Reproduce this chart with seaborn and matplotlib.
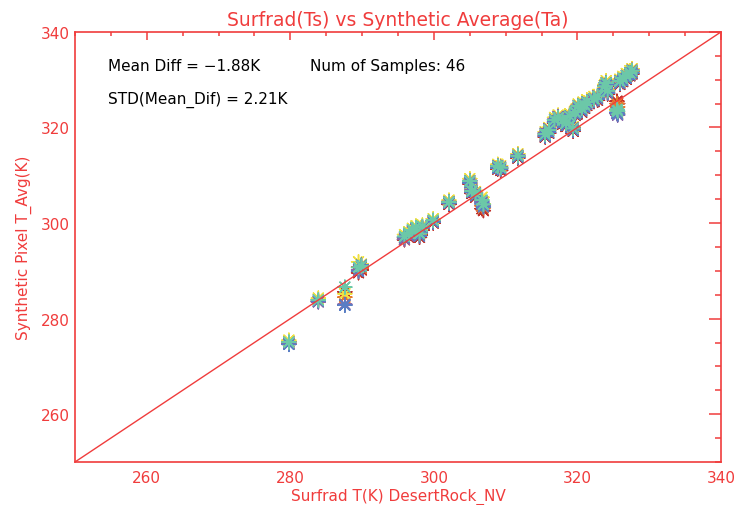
import pandas as pd
import matplotlib.pyplot as plt
import seaborn as sns
from matplotlib.ticker import MultipleLocator

# -----------------------------
# Data
# -----------------------------
surfrad_t = [279.8, 283.9, 287.6, 289.5, 289.9, 295.9, 296.5, 297.0, 297.5, 298.0,
             298.4, 299.9, 302.1, 305.0, 305.3, 305.8, 306.7, 306.9, 308.9, 309.3,
             311.7, 315.5, 316.0, 316.8, 317.3, 317.9, 318.4, 319.4, 319.7, 320.1,
             320.6, 321.0, 322.3, 322.8, 323.8, 324.2, 324.0, 325.5, 325.6, 325.9,
             326.3, 326.8, 327.3, 327.6, 321.3, 318.9]

pix_red = [274.7, 283.6, 285.6, 289.6, 290.2, 296.5, 297.0, 297.8, 298.0, 297.0,
           298.5, 300.0, 303.9, 308.2, 306.2, 305.4, 303.0, 302.6, 311.3, 311.0,
           313.6, 318.0, 318.8, 320.9, 321.2, 320.7, 320.2, 319.2, 322.5, 323.8,
           323.2, 324.0, 325.4, 325.7, 327.9, 327.0, 328.6, 325.5, 325.0, 329.0,
           329.6, 330.1, 330.8, 331.2, 324.6, 321.7]
pix_orange = [275.2, 284.0, 284.5, 290.8, 290.6, 296.9, 297.4, 298.1, 298.6, 297.6,
              298.9, 300.3, 304.2, 308.6, 306.6, 306.0, 303.6, 303.2, 311.7, 311.4,
              314.0, 318.4, 319.3, 321.3, 321.8, 321.2, 320.6, 319.6, 322.9, 324.2,
              323.7, 324.4, 325.8, 326.2, 328.3, 327.4, 329.1, 325.0, 324.3, 329.4,
              330.0, 330.5, 331.2, 331.7, 325.1, 322.2]
pix_yellow = [275.5, 284.3, 285.2, 291.9, 291.4, 297.6, 298.2, 298.9, 299.4, 298.3,
              299.6, 300.9, 304.8, 309.3, 307.2, 306.6, 305.4, 304.0, 312.3, 312.0,
              314.5, 319.1, 320.0, 322.1, 322.6, 322.0, 321.4, 320.2, 323.6, 324.9,
              324.4, 325.1, 326.5, 326.9, 329.0, 328.1, 329.8, 323.6, 323.0, 330.1,
              330.7, 331.3, 331.9, 332.3, 325.8, 322.9]
pix_purple = [274.9, 283.5, 283.0, 290.2, 290.9, 296.6, 297.3, 298.3, 298.8, 297.9,
              299.2, 300.5, 304.5, 308.9, 306.9, 306.3, 304.4, 303.8, 312.0, 311.7,
              314.2, 318.8, 319.7, 321.7, 322.3, 321.6, 321.0, 319.9, 323.3, 324.6,
              324.0, 324.8, 326.1, 326.6, 328.7, 327.7, 329.4, 322.9, 322.6, 329.8,
              330.3, 330.9, 331.5, 332.0, 325.4, 322.5]
pix_blue = [274.6, 283.7, 282.8, 289.9, 291.2, 297.0, 297.7, 298.5, 299.0, 297.3,
            299.0, 300.2, 304.1, 308.4, 306.4, 305.7, 304.0, 303.4, 311.5, 311.3,
            313.8, 318.2, 319.0, 321.1, 321.5, 320.9, 320.4, 319.4, 322.7, 324.0,
            323.5, 324.2, 325.6, 326.0, 328.1, 327.2, 328.9, 323.2, 322.8, 329.2,
            329.8, 330.3, 331.0, 331.4, 324.9, 321.9]
pix_teal = [275.1, 283.9, 286.6, 290.7, 291.0, 297.2, 297.9, 298.6, 299.1, 297.8,
            299.3, 300.6, 304.4, 308.8, 306.7, 306.2, 304.8, 303.9, 311.9, 311.6,
            314.1, 318.6, 319.5, 321.6, 322.1, 321.5, 320.9, 319.8, 323.2, 324.5,
            324.0, 324.7, 326.0, 326.5, 328.6, 327.7, 329.3, 323.8, 323.4, 329.7,
            330.3, 330.8, 331.4, 331.9, 325.3, 322.4]

pixel_names = ["red", "orange", "yellow", "purple", "blue", "teal"]
pixel_colors = ["#c0302a", "#e8782c", "#f0e040", "#8a64a8", "#5a7ec4", "#6cc8a8"]

axis_lim = [250, 340]
red = "#f03c3c"

# -----------------------------
# Long-form table
# -----------------------------
df = pd.DataFrame({"surfrad": surfrad_t, "red": pix_red, "orange": pix_orange,
                   "yellow": pix_yellow, "purple": pix_purple, "blue": pix_blue,
                   "teal": pix_teal})
long_df = df.melt(id_vars="surfrad", value_vars=pixel_names,
                  var_name="pixel", value_name="synthetic")

# -----------------------------
# Plot
# -----------------------------
sns.set_theme(style="white")
plt.rcParams["font.family"] = ["DejaVu Sans"]

fig = plt.figure(figsize=(7.35, 5.06), dpi=100)
ax = fig.add_axes([0.102, 0.085, 0.879, 0.850])

sns.scatterplot(data=long_df, x="surfrad", y="synthetic", hue="pixel",
                hue_order=pixel_names, palette=pixel_colors,
                marker=(8, 2, 0), s=100, linewidth=1.1, legend=False, ax=ax)

ax.axline((axis_lim[0], axis_lim[0]), slope=1, color=red, lw=1)

ax.set_xlim(axis_lim)
ax.set_ylim(axis_lim)
ax.xaxis.set_major_locator(MultipleLocator(20))
ax.yaxis.set_major_locator(MultipleLocator(20))
ax.xaxis.set_minor_locator(MultipleLocator(5))
ax.yaxis.set_minor_locator(MultipleLocator(5))

for sp in ax.spines.values():
    sp.set_color(red)
    sp.set_linewidth(1.2)

ax.tick_params(which="both", direction="in", top=True, right=True,
               color=red, labelcolor=red, labelsize=11, width=1.1)
ax.tick_params(axis="x", which="major", length=6, pad=6)
ax.tick_params(axis="x", which="minor", length=3)
ax.tick_params(axis="y", which="major", length=9, pad=4)
ax.tick_params(axis="y", which="minor", length=4.5)

# no labels at 250, like the original
ax.set_xticks([260, 280, 300, 320, 340])
ax.set_yticks([260, 280, 300, 320, 340])

ax.set_xlabel("Surfrad T(K) DesertRock_NV", color=red, fontsize=11, labelpad=2)
ax.set_ylabel("Synthetic Pixel T_Avg(K)", color=red, fontsize=11, labelpad=6)
ax.set_title("Surfrad(Ts) vs Synthetic Average(Ta)", color=red, fontsize=13.5, pad=5)

ax.text(0.051, 0.921, "Mean Diff = \u22121.88K", transform=ax.transAxes,
        fontsize=11, color="black", va="center")
ax.text(0.364, 0.921, "Num of Samples: 46", transform=ax.transAxes,
        fontsize=11, color="black", va="center")
ax.text(0.051, 0.844, "STD(Mean_Dif) = 2.21K", transform=ax.transAxes,
        fontsize=11, color="black", va="center")

plt.savefig("out.png", dpi=100)
plt.close()
